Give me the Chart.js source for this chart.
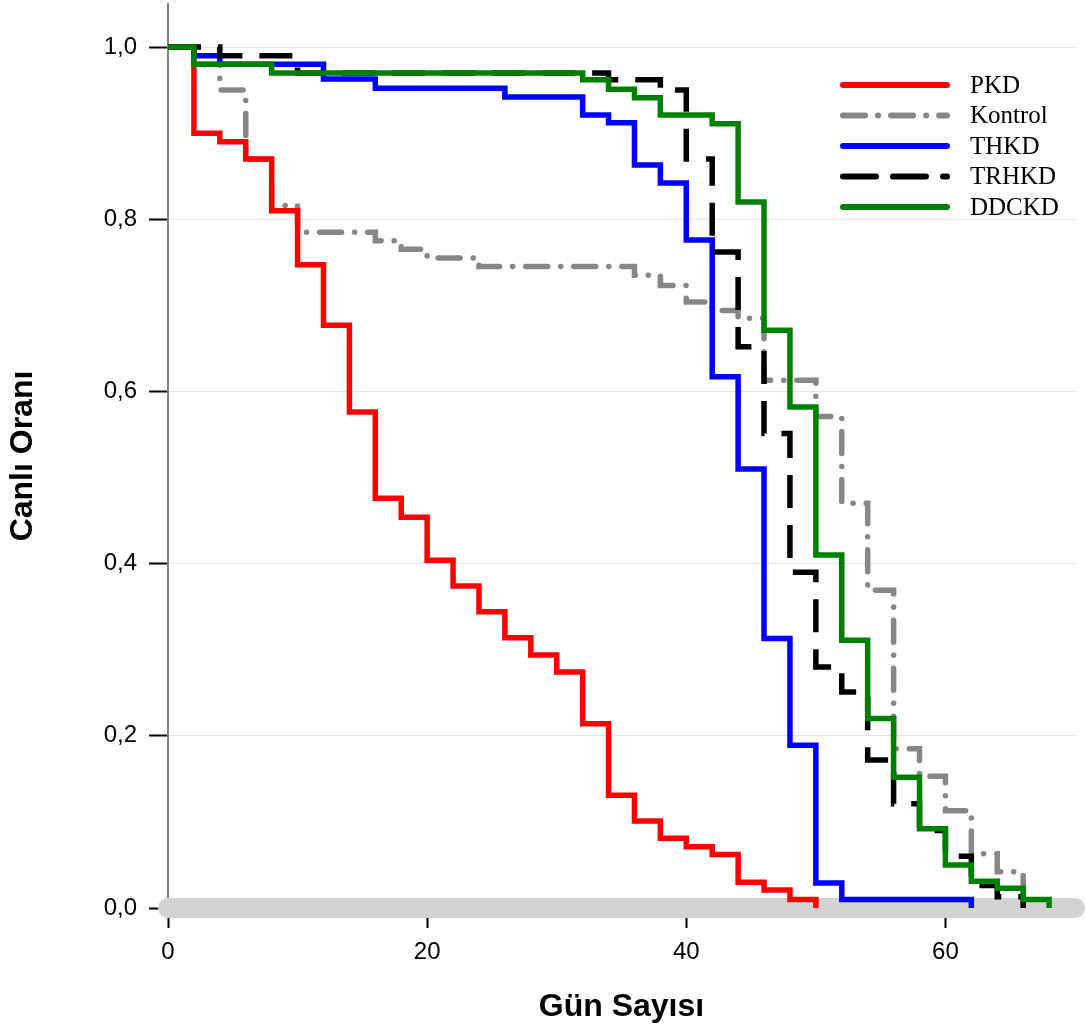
<!DOCTYPE html>
<html lang="tr">
<head>
    <meta charset="UTF-8">
    <title>Canlı Oranı - Gün Sayısı</title>
    <script src="https://cdn.jsdelivr.net/npm/chart.js"></script>
    <style>
        body {
            margin: 0;
            background-color: #ffffff;
        }

        #chart {
            display: block;
        }
    </style>
</head>
<body>
    <canvas id="chart" width="1086" height="1032"></canvas>

    <script>
        // Series labels (legend order)
        const seriesNames = ['PKD', 'Kontrol', 'THKD', 'TRHKD', 'DDCKD'];

        // Step points: day where the survival drops, and the new value
        const pkdDays = [0, 2, 4, 6, 8, 10, 12, 14, 16, 18, 20, 22, 24, 26, 28, 30, 32, 34, 36, 38, 40, 42, 44, 46, 48, 50];
        const pkdSurv = [1, 0.90, 0.89, 0.87, 0.81, 0.747, 0.677, 0.576, 0.476, 0.454, 0.404, 0.374, 0.344, 0.314, 0.294, 0.274, 0.214, 0.131, 0.101, 0.081, 0.071, 0.062, 0.030, 0.021, 0.010, 0];

        const kontrolDays = [0, 2, 4, 6, 8, 10, 16, 18, 20, 24, 36, 38, 40, 42, 44, 46, 50, 52, 54, 56, 58, 60, 62, 64, 66];
        const kontrolSurv = [1, 0.98, 0.95, 0.87, 0.816, 0.785, 0.775, 0.765, 0.755, 0.745, 0.735, 0.723, 0.704, 0.694, 0.685, 0.613, 0.571, 0.47, 0.369, 0.185, 0.153, 0.113, 0.063, 0.042, 0];

        const thkdDays = [0, 2, 4, 12, 16, 26, 32, 34, 36, 38, 40, 42, 44, 46, 48, 50, 52, 62];
        const thkdSurv = [1, 0.99, 0.98, 0.963, 0.952, 0.942, 0.921, 0.912, 0.863, 0.842, 0.776, 0.617, 0.51, 0.313, 0.189, 0.029, 0.01, 0];

        const trhkdDays = [0, 4, 10, 34, 38, 40, 42, 44, 46, 48, 50, 52, 54, 56, 58, 60, 62, 64, 66];
        const trhkdSurv = [1, 0.99, 0.97, 0.962, 0.95, 0.87, 0.762, 0.652, 0.551, 0.39, 0.28, 0.251, 0.172, 0.121, 0.09, 0.06, 0.026, 0.013, 0];

        const ddckdDays = [0, 2, 8, 32, 34, 36, 38, 42, 44, 46, 48, 50, 52, 54, 56, 58, 60, 62, 64, 66, 68];
        const ddckdSurv = [1, 0.98, 0.97, 0.962, 0.951, 0.941, 0.921, 0.911, 0.82, 0.671, 0.582, 0.41, 0.311, 0.22, 0.152, 0.092, 0.05, 0.031, 0.023, 0.01, 0];

        // Axis ranges
        const xMin = 0;
        const xMax = 70;
        const yMin = 0;
        const yMax = 1.05;

        const sans = '"Liberation Sans", Arial, sans-serif';
        const serif = '"Liberation Serif", "Times New Roman", serif';

        function toPoints(days, values) {
            return days.map((d, i) => ({ x: d, y: values[i] }));
        }

        function stepSet(label, days, values, color, dash, cap, order) {
            return {
                label: label,
                data: toPoints(days, values),
                borderColor: color,
                backgroundColor: color,
                borderWidth: 5.5,
                borderDash: dash,
                borderCapStyle: cap,
                borderJoinStyle: 'miter',
                stepped: true,
                pointRadius: 0,
                fill: false,
                order: order
            };
        }

        const datasets = [
            stepSet(seriesNames[0], pkdDays, pkdSurv, '#ff0000', [], 'butt', 4),
            stepSet(seriesNames[1], kontrolDays, kontrolSurv, '#878787', [22, 13, 0.1, 13], 'round', 5),
            stepSet(seriesNames[2], thkdDays, thkdSurv, '#0000ff', [], 'butt', 3),
            stepSet(seriesNames[3], trhkdDays, trhkdSurv, '#000000', [33, 17], 'butt', 2),
            stepSet(seriesNames[4], ddckdDays, ddckdSurv, '#008000', [], 'butt', 1),
            // thick grey band along zero
            {
                label: 'zero',
                data: [{ x: xMin, y: 0 }, { x: xMax, y: 0 }],
                borderColor: '#d3d3d3',
                borderWidth: 20,
                borderCapStyle: 'round',
                pointRadius: 0,
                clip: false,
                order: 10
            }
        ];

        // Legend drawn by hand in the upper right corner
        const legendPlugin = {
            id: 'cornerLegend',
            afterDraw(chart) {
                const ctx = chart.ctx;
                const x1 = 843, x2 = 947, textX = 970;
                const top = 85, step = 30.5;
                ctx.save();
                seriesNames.forEach((name, i) => {
                    const ds = chart.data.datasets[i];
                    const y = top + i * step;
                    ctx.beginPath();
                    ctx.strokeStyle = ds.borderColor;
                    ctx.lineWidth = 6;
                    ctx.lineCap = 'round';
                    ctx.setLineDash(ds.borderDash.length ? ds.borderDash : []);
                    ctx.moveTo(x1, y);
                    ctx.lineTo(x2, y);
                    ctx.stroke();
                    ctx.setLineDash([]);
                    ctx.fillStyle = '#000000';
                    ctx.font = '25px ' + serif;
                    ctx.textAlign = 'left';
                    ctx.textBaseline = 'middle';
                    ctx.fillText(name, textX, y + 1);
                });
                ctx.restore();
            }
        };

        new Chart(document.getElementById('chart'), {
            type: 'line',
            data: { datasets: datasets },
            plugins: [legendPlugin],
            options: {
                responsive: false,
                animation: false,
                devicePixelRatio: 1,
                layout: {
                    padding: { top: 4, right: 11, left: 0, bottom: 0 }
                },
                plugins: {
                    legend: { display: false },
                    tooltip: { enabled: false }
                },
                scales: {
                    x: {
                        type: 'linear',
                        min: xMin,
                        max: xMax,
                        z: 1,
                        border: { display: false },
                        grid: {
                            drawOnChartArea: false,
                            drawTicks: true,
                            tickLength: 20,
                            tickWidth: 2,
                            tickColor: '#000000',
                            // minor ticks show as small dots
                            tickBorderDash: (c) => (c.tick && c.tick.value % 20 !== 0) ? [2, 100] : []
                        },
                        ticks: {
                            stepSize: 4,
                            includeBounds: false,
                            autoSkip: false,
                            maxRotation: 0,
                            padding: 10,
                            color: '#000000',
                            font: { family: sans, size: 24 },
                            callback: (v) => (v % 20 === 0 ? String(v) : '')
                        },
                        title: {
                            display: true,
                            text: 'Gün Sayısı',
                            color: '#000000',
                            font: { family: sans, size: 32, weight: 'bold' },
                            padding: { top: 0, bottom: 6 }
                        },
                        afterFit: (s) => {
                            s.height = 124;
                            s.paddingLeft = 0;
                            s.paddingRight = 0;
                        }
                    },
                    y: {
                        type: 'linear',
                        min: yMin,
                        max: yMax,
                        border: { display: true, color: '#808080', width: 2 },
                        grid: {
                            color: '#e2e2e2',
                            lineWidth: 1,
                            drawTicks: true,
                            tickLength: 19,
                            tickWidth: 2,
                            tickColor: '#000000'
                        },
                        ticks: {
                            stepSize: 0.2,
                            includeBounds: false,
                            padding: 12,
                            color: '#000000',
                            font: { family: sans, size: 24 },
                            callback: (v) => v.toFixed(1).replace('.', ',')
                        },
                        title: {
                            display: true,
                            text: 'Canlı Oranı',
                            color: '#000000',
                            font: { family: sans, size: 32, weight: 'bold' },
                            padding: { top: 4, bottom: 0 }
                        },
                        afterFit: (s) => {
                            s.width = 168;
                            s.paddingTop = 0;
                            s.paddingBottom = 0;
                        }
                    }
                }
            }
        });
    </script>
</body>
</html>
